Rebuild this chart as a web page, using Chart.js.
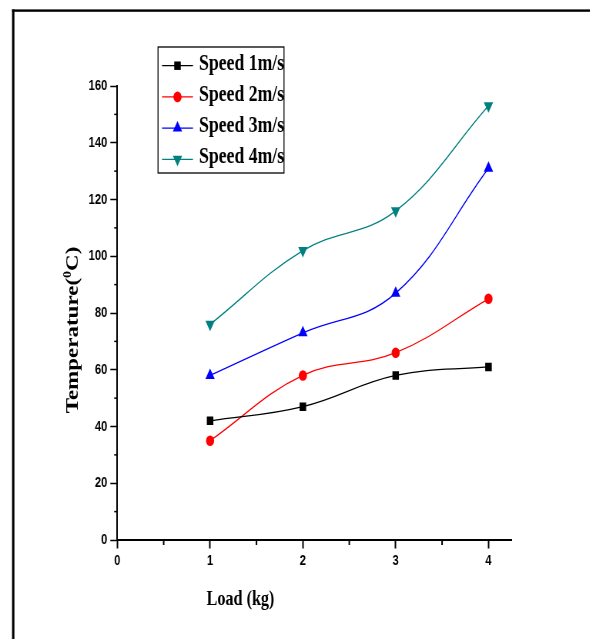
<!DOCTYPE html>
<html>
<head>
<meta charset="utf-8">
<script src="https://cdn.jsdelivr.net/npm/chart.js@4.4.1/dist/chart.umd.min.js"></script>
<style>
  html, body { margin: 0; padding: 0; background: #fff; overflow: hidden; }
  /* the figure is drawn wide and squeezed horizontally, like the printed plot */
  #wrap { width: 766px; height: 639px; transform: scaleX(0.77); transform-origin: 0 0; }
</style>
</head>
<body>
<div id="wrap"><canvas id="grafico" width="766" height="639"></canvas></div>
<script>
// =========================
// DATA
// =========================

const loads = [1, 2, 3, 4];

const seriesNames = ["Speed 1m/s", "Speed 2m/s", "Speed 3m/s", "Speed 4m/s"];

const tempSpeed1 = [42, 47, 58, 61];
const tempSpeed2 = [35, 58, 66, 85];
const tempSpeed3 = [58, 73, 87, 131];
const tempSpeed4 = [76, 102, 116, 153];

const xMinorTicks = [0.5, 1.5, 2.5, 3.5];
const yMinorTicks = [10, 30, 50, 70, 90, 110, 130, 150];


// =========================
// HELPERS
// =========================

function toPoints(values) {
    return loads.map((load, i) => ({ x: load, y: values[i] }));
}

function serie(label, values, color, style, radius, rotation = 0) {
    return {
        label: label,
        data: toPoints(values),
        borderColor: color,
        backgroundColor: color,
        borderWidth: 1.3,
        tension: 0.4,
        pointStyle: style,
        pointRadius: radius,
        pointHoverRadius: radius,
        pointRotation: rotation,
        pointBorderWidth: 0
    };
}


// =========================
// PLUGINS
// =========================

// frame around the figure
const frame = {
    id: "frame",
    beforeDraw(chart) {
        const ctx = chart.ctx;
        ctx.save();
        ctx.fillStyle = "#fff";
        ctx.fillRect(0, 0, chart.width, chart.height);
        ctx.fillStyle = "#000";
        ctx.fillRect(15.6, 9.4, 3.1, chart.height);
        ctx.fillRect(15.6, 9.4, chart.width, 2.4);
        ctx.restore();
    }
};

// short ticks between the labelled ones
const minorTicks = {
    id: "minorTicks",
    afterDraw(chart) {
        const ctx = chart.ctx;
        const sx = chart.scales.x;
        const sy = chart.scales.y;
        ctx.save();
        ctx.strokeStyle = "#000";

        ctx.lineWidth = 2;
        xMinorTicks.forEach(v => {
            const px = sx.getPixelForValue(v);
            ctx.beginPath();
            ctx.moveTo(px, sx.top);
            ctx.lineTo(px, sx.top + 5);
            ctx.stroke();
        });

        ctx.lineWidth = 1.5;
        yMinorTicks.forEach(v => {
            const py = sy.getPixelForValue(v);
            ctx.beginPath();
            ctx.moveTo(sy.right, py);
            ctx.lineTo(sy.right - 4, py);
            ctx.stroke();
        });
        ctx.restore();
    }
};

// axis titles, the y one carries a raised "0"
const axisTitles = {
    id: "axisTitles",
    afterDraw(chart) {
        const ctx = chart.ctx;
        ctx.save();
        ctx.fillStyle = "#000";
        ctx.textBaseline = "middle";

        ctx.font = 'bold 21px "Liberation Serif", "Times New Roman", serif';
        ctx.textAlign = "center";
        ctx.fillText("Load (kg)", 312.3, 600);

        const bigFont = 'bold 23px "Liberation Serif", "Times New Roman", serif';
        const smallFont = 'bold 14px "Liberation Serif", "Times New Roman", serif';
        const part1 = "Temperature(";
        const sup = "0";
        const part2 = "C)";

        ctx.font = bigFont;
        const w1 = ctx.measureText(part1).width;
        const w3 = ctx.measureText(part2).width;
        ctx.font = smallFont;
        const w2 = ctx.measureText(sup).width;
        const total = w1 + w2 + w3;

        ctx.translate(95.3, 330);
        ctx.rotate(-Math.PI / 2);
        ctx.textAlign = "left";
        let x = -total / 2;
        ctx.font = bigFont;
        ctx.fillText(part1, x, 0);
        x += w1;
        ctx.font = smallFont;
        ctx.fillText(sup, x, -7);
        x += w2;
        ctx.font = bigFont;
        ctx.fillText(part2, x, 0);
        ctx.restore();
    }
};

// boxed legend sitting over the plot
const boxLegend = {
    id: "boxLegend",
    afterDraw(chart) {
        const ctx = chart.ctx;
        ctx.save();
        ctx.strokeStyle = "#000";
        ctx.lineWidth = 1.3;
        ctx.fillStyle = "#fff";
        ctx.fillRect(205.2, 47, 163.6, 126);
        ctx.strokeRect(205.2, 47, 163.6, 126);

        chart.data.datasets.forEach((ds, i) => {
            const y = 65.7 + i * 31.2;
            ctx.strokeStyle = ds.borderColor;
            ctx.lineWidth = 1.3;
            ctx.beginPath();
            ctx.moveTo(210.4, y);
            ctx.lineTo(250.6, y);
            ctx.stroke();

            ctx.fillStyle = ds.backgroundColor;
            ctx.strokeStyle = ds.borderColor;
            Chart.helpers.drawPoint(ctx, {
                pointStyle: ds.pointStyle,
                radius: ds.pointRadius,
                rotation: ds.pointRotation,
                borderWidth: 0
            }, 230.5, y);

            ctx.fillStyle = "#000";
            ctx.font = 'bold 23px "Liberation Serif", "Times New Roman", serif';
            ctx.textAlign = "left";
            ctx.textBaseline = "middle";
            ctx.fillText(ds.label, 258.4, y - 2);
        });
        ctx.restore();
    }
};


// =========================
// CHART
// =========================

const tickFont = { family: '"Liberation Sans", Arial, sans-serif', size: 14.5, weight: "bold" };

new Chart(document.getElementById("grafico"), {

    type: "line",

    data: {
        datasets: [
            serie(seriesNames[0], tempSpeed1, "#000000", "rect", 6),
            serie(seriesNames[1], tempSpeed2, "#ff0000", "circle", 5.3),
            serie(seriesNames[2], tempSpeed3, "#0000ff", "triangle", 7),
            serie(seriesNames[3], tempSpeed4, "#008080", "triangle", 7, 180)
        ]
    },

    options: {
        responsive: false,
        animation: false,
        devicePixelRatio: 1,

        layout: {
            padding: { left: 0, right: 101.5, top: 86, bottom: 0 }
        },

        plugins: {
            legend: { display: false },
            tooltip: { enabled: false }
        },

        scales: {

            x: {
                type: "linear",
                min: 0,
                max: 4.25,
                afterFit: s => { s.height = 99; },
                afterBuildTicks: s => { s.ticks = s.ticks.filter(t => Number.isInteger(t.value) && t.value <= 4); },
                ticks: {
                    stepSize: 1,
                    includeBounds: false,
                    color: "#000",
                    font: tickFont,
                    padding: 4,
                    maxRotation: 0
                },
                grid: {
                    drawOnChartArea: false,
                    drawTicks: true,
                    tickLength: 8.5,
                    tickWidth: 2,
                    tickColor: "#000"
                },
                border: { display: true, color: "#000", width: 2 }
            },

            y: {
                min: 0,
                max: 160,
                afterFit: s => { s.width = 152.3; },
                ticks: {
                    stepSize: 20,
                    color: "#000",
                    font: tickFont,
                    padding: 4
                },
                grid: {
                    drawOnChartArea: false,
                    drawTicks: true,
                    tickLength: 9,
                    tickWidth: 1.5,
                    tickColor: "#000"
                },
                border: { display: true, color: "#000", width: 2 }
            }

        }
    },

    plugins: [frame, minorTicks, axisTitles, boxLegend]

});
</script>
</body>
</html>
